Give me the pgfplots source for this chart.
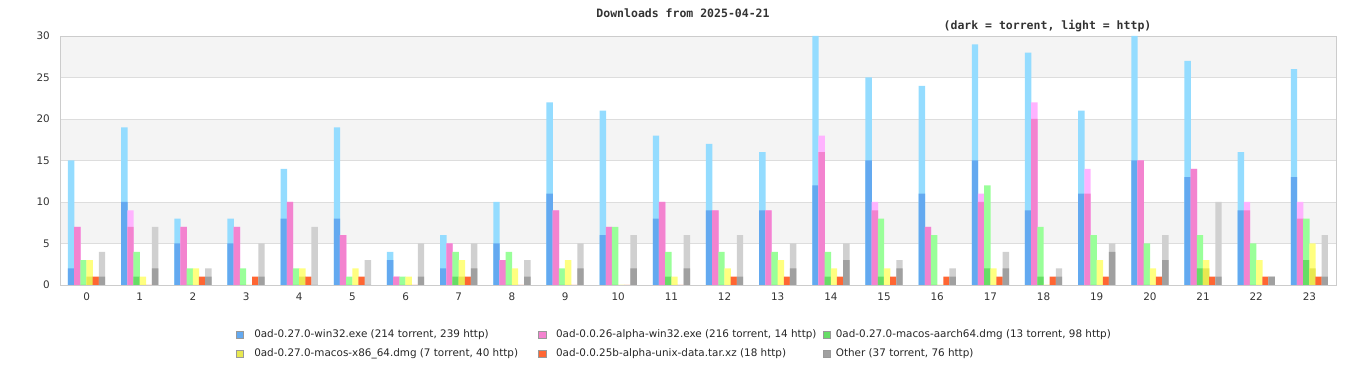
\documentclass[border=0pt]{standalone}
\usepackage{fontspec}
\setmainfont{DejaVu Sans}
\newfontfamily\titlefont{DejaVu Sans Mono}
\usepackage{pgfplots}
\usepackage{pgfplotstable}
\pgfplotsset{compat=1.18}
\definecolor{blueD}{HTML}{63A9F0}
\definecolor{blueL}{HTML}{94DCFF}
\definecolor{pinkD}{HTML}{F383CF}
\definecolor{pinkL}{HTML}{FFB3FF}
\definecolor{greenD}{HTML}{66DD66}
\definecolor{greenL}{HTML}{99FF99}
\definecolor{yellowD}{HTML}{E8E850}
\definecolor{yellowL}{HTML}{FFFF80}
\definecolor{orangeC}{HTML}{FF6633}
\definecolor{grayD}{HTML}{A0A0A0}
\definecolor{grayL}{HTML}{D0D0D0}
\definecolor{band}{HTML}{F4F4F4}
\definecolor{gridc}{HTML}{DDDDDD}
\definecolor{framec}{HTML}{CCCCCC}
\definecolor{txt}{HTML}{333333}
\pgfplotstableread{
h bt ba pt pa gt ga yt ya o rt ra
0 2 15 7 7 0 3 1 3 1 1 4
1 10 19 7 9 1 4 0 1 0 2 7
2 5 8 7 7 0 2 0 2 1 1 2
3 5 8 7 7 0 2 0 0 1 1 5
4 8 14 10 10 0 2 1 2 1 0 7
5 8 19 6 6 0 1 0 2 1 0 3
6 3 4 1 1 0 1 0 1 0 1 5
7 2 6 5 5 1 4 1 3 1 2 5
8 5 10 3 3 0 4 0 2 0 1 3
9 11 22 9 9 0 2 0 3 0 2 5
10 6 21 7 7 0 7 0 0 0 2 6
11 8 18 10 10 1 4 0 1 0 2 6
12 9 17 9 9 0 4 0 2 1 1 6
13 9 16 9 9 0 4 0 3 1 2 5
14 12 30 16 18 1 4 0 2 1 3 5
15 15 25 9 10 1 8 0 2 1 2 3
16 11 24 7 7 0 6 0 0 1 1 2
17 15 29 10 11 2 12 0 2 1 2 4
18 9 28 20 22 1 7 0 0 1 1 2
19 11 21 11 14 0 6 0 3 1 4 5
20 15 30 15 15 0 5 0 2 1 3 6
21 13 27 14 14 2 6 2 3 1 1 10
22 9 16 9 10 0 5 0 3 1 1 1
23 13 26 8 10 3 8 2 5 1 1 6
}\data
\newcommand{\lf}{\fontsize{10.4bp}{12bp}\selectfont}
\pgfplotsset{
  sq/.style={legend image code/.code={\draw[fill=#1, draw=gray!80, line width=0.8bp] (0bp,-3.75bp) rectangle (7.5bp,3.75bp);}},
  bb/.style={ybar, bar width=6.4bp, draw=none, fill=#1}
}
\begin{document}
\begin{tikzpicture}
\begin{axis}[
  set layers=standard,
  scale only axis,
  width=1276bp, height=249bp,
  at={(60bp,95bp)}, anchor=south west,
  xmin=-0.5, xmax=23.5, ymin=0, ymax=30,
  xtick={0,...,23}, ytick={0,5,...,30},
  ymajorgrids, grid style={gridc, line width=0.8bp},
  axis line style={framec, line width=0.8bp},
  major tick length=0pt,
  tick style={draw=none},
  /pgf/number format/assume math mode=true,
  xticklabel style={font=\lf, text=txt, inner sep=0pt, anchor=north, yshift=-8bp},
  yticklabel style={font=\lf, text=txt, inner sep=0pt, anchor=east, xshift=-10bp},
  legend columns=3,
  legend cell align=left,
  legend style={at={(axis description cs:0.1379,-0.1807)}, anchor=north west,
    draw=none, fill=none, inner sep=0pt, outer sep=0pt,
    column sep=0pt, row sep=9bp,
    nodes={inner sep=0pt, outer sep=0pt, text height=8bp, text depth=2bp, font=\lf, text=black!85}},
]
\begin{pgfonlayer}{axis background}
\fill[band] (axis cs:-0.5,5) rectangle (axis cs:23.5,10);
\fill[band] (axis cs:-0.5,15) rectangle (axis cs:23.5,20);
\fill[band] (axis cs:-0.5,25) rectangle (axis cs:23.5,30);
\end{pgfonlayer}
\addplot[bb=blueL, bar shift=-15.4bp, forget plot] table[x=h, y=ba] {\data};
\addplot[bb=blueD, bar shift=-15.4bp, sq=blueD] table[x=h, y=bt] {\data};
\addplot[bb=pinkL, bar shift=-9.25bp, forget plot] table[x=h, y=pa] {\data};
\addplot[bb=pinkD, bar shift=-9.25bp, sq=pinkD] table[x=h, y=pt] {\data};
\addplot[bb=greenL, bar shift=-3.08bp, forget plot] table[x=h, y=ga] {\data};
\addplot[bb=greenD, bar shift=-3.08bp, sq=greenD] table[x=h, y=gt] {\data};
\addplot[bb=yellowL, bar shift=3.08bp, forget plot] table[x=h, y=ya] {\data};
\addplot[bb=yellowD, bar shift=3.08bp, sq=yellowD] table[x=h, y=yt] {\data};
\addplot[bb=orangeC, bar shift=9.25bp, sq=orangeC] table[x=h, y=o] {\data};
\addplot[bb=grayL, bar shift=15.4bp, forget plot] table[x=h, y=ra] {\data};
\addplot[bb=grayD, bar shift=15.4bp, sq=grayD] table[x=h, y=rt] {\data};
\legend{
  \makebox[294bp][l]{\hspace{10bp}0ad-0.27.0-win32.exe (214 torrent, 239 http)},
  \makebox[276bp][l]{\hspace{9.5bp}0ad-0.0.26-alpha-win32.exe (216 torrent, 14 http)},
  \makebox[320bp][l]{\hspace{5bp}0ad-0.27.0-macos-aarch64.dmg (13 torrent, 98 http)},
  \makebox[294bp][l]{\hspace{10bp}0ad-0.27.0-macos-x86\_64.dmg (7 torrent, 40 http)},
  \makebox[276bp][l]{\hspace{9.5bp}0ad-0.0.25b-alpha-unix-data.tar.xz (18 http)},
  \makebox[320bp][l]{\hspace{5bp}Other (37 torrent, 76 http)}
}
\end{axis}
\node[font=\titlefont\bfseries\fontsize{11.5bp}{13bp}\selectfont, text=txt, inner sep=0pt] at (683bp,367bp) {Downloads from 2025-04-21};
\node[font=\titlefont\bfseries\fontsize{11.5bp}{13bp}\selectfont, text=txt, inner sep=0pt] at (1047.5bp,354bp) {(dark = torrent, light = http)};
\pgfresetboundingbox
\path (0,0) rectangle (1366bp,380bp);
\end{tikzpicture}
\end{document}
